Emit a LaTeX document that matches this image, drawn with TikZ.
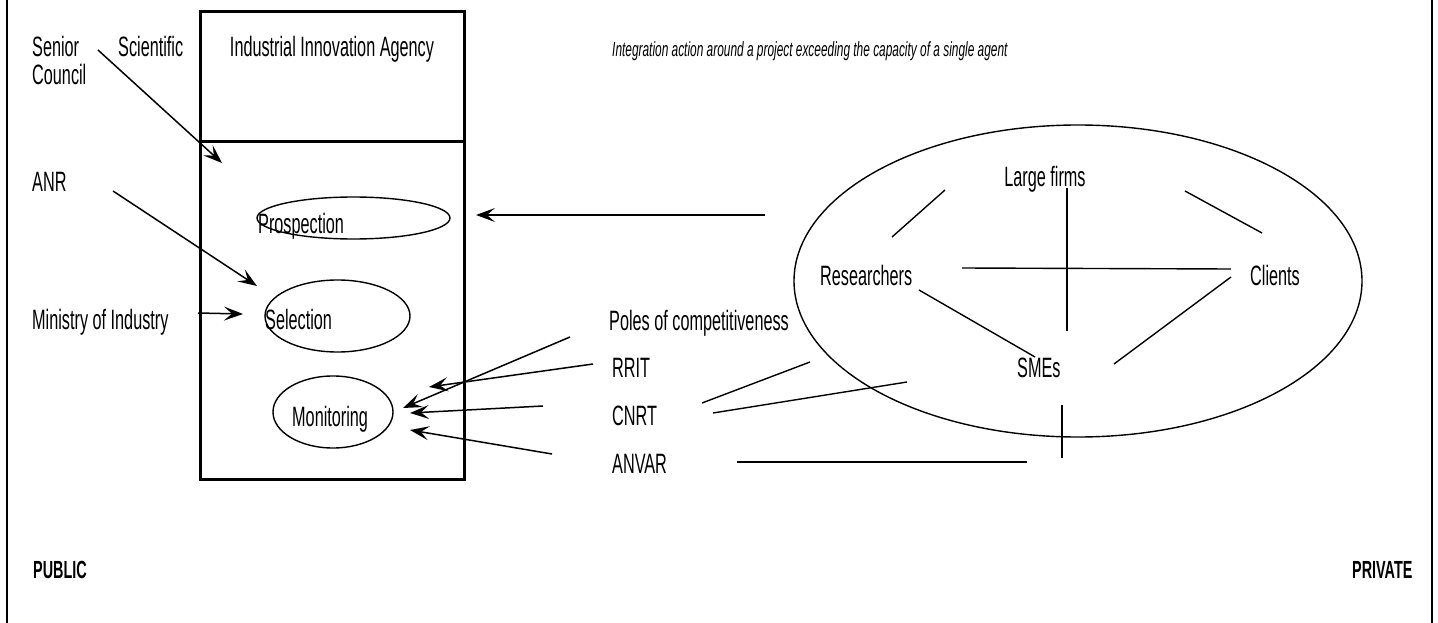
\documentclass[tikz,border=0pt]{standalone}
\usepackage{fontspec}
\setmainfont{Liberation Sans}[FakeStretch=0.58]
\usetikzlibrary{shapes.geometric,arrows.meta}
\begin{document}
\begin{tikzpicture}[x=1pt,y=-1pt,
  lbl/.style={anchor=base west, inner sep=0pt, font=\fontsize{28}{31}\selectfont},
  lblc/.style={anchor=base, inner sep=0pt, font=\fontsize{28}{31}\selectfont},
  ttl/.style={anchor=base west, inner sep=0pt, font=\fontsize{20.5}{24}\selectfont\itshape},
  side/.style={anchor=base west, inner sep=0pt, font=\fontsize{24.8}{28}\selectfont\bfseries},
  oval/.style={draw, ellipse, line width=1.4pt, inner sep=0pt},
  link/.style={line width=1.4pt},
  arr/.style={line width=1.5pt, -{Stealth[length=19pt,width=14pt,inset=8pt]}},
  framed/.style={line width=2pt},
  agency/.style={draw, line width=3pt, inner sep=0pt}]
\useasboundingbox (0,0) rectangle (1438,623);
% side frame lines
\draw[framed] (7,0) -- (7,623);
\draw[framed] (1432,0) -- (1432,623);
% agency box
\node[agency, minimum width=264pt, minimum height=130pt] (agtop) at (332,77) {};
\node[agency, minimum width=264pt, minimum height=337pt] (agbot) at (332,310.5) {};
\node[lblc] (iia) at (332,57) {Industrial Innovation Agency};
% ovals inside the agency
\node[oval, minimum width=193pt, minimum height=42pt] (prosp) at (353.5,218) {};
\node[oval, minimum width=145pt, minimum height=72pt] (sel) at (337.5,316) {};
\node[oval, minimum width=120pt, minimum height=72pt] (mon) at (333,412) {};
\node[lbl] (prostxt) at (258,233) {Prospection};
\node[lbl] (seltxt) at (265,329) {Selection};
\node[lbl] (montxt) at (292,426) {Monitoring};
% public side labels
\node[lbl] (senior) at (32,57) {Senior};
\node[lbl] (council) at (32,85) {Council};
\node[lbl] (scient) at (118,57) {Scientific};
\node[lbl] (anr) at (32,192) {ANR};
\node[lbl] (moi) at (32,329) {Ministry of Industry};
\node[ttl] (title) at (612,57) {Integration action around a project exceeding the capacity of a single agent};
% intermediate labels
\node[lbl] (poles) at (609,330) {Poles of competitiveness};
\node[lbl] (rrit) at (612,377) {RRIT};
\node[lbl] (cnrt) at (612,425) {CNRT};
\node[lbl] (anvar) at (612,473) {ANVAR};
% private ellipse
\node[oval, minimum width=568pt, minimum height=312pt] (priv) at (1078,281) {};
\node[lblc] (large) at (1045,186) {Large firms};
\node[lbl] (res) at (820,285) {Researchers};
\node[lbl] (cli) at (1250,285) {Clients};
\node[lbl] (smes) at (1017,377) {SMEs};
\node[side] (pub) at (33,578) {PUBLIC};
\node[side] (pri) at (1352,578) {PRIVATE};
% coordinates for connector ends
\coordinate (a1s) at (98,50);   \coordinate (a1e) at (222,163);
\coordinate (a2s) at (113,191); \coordinate (a2e) at (257,286);
\coordinate (a3s) at (198,313); \coordinate (a3e) at (243,314);
\coordinate (a4s) at (570,337); \coordinate (a4e) at (403,408);
\coordinate (a5s) at (593,364); \coordinate (a5e) at (429,387);
\coordinate (a6s) at (543,406); \coordinate (a6e) at (410,413);
\coordinate (a7s) at (552,454); \coordinate (a7e) at (410,430);
\coordinate (a8s) at (765,215); \coordinate (a8e) at (476,215);
\draw[arr] (a1s) -- (a1e);
\draw[arr] (a2s) -- (a2e);
\draw[arr] (a3s) -- (a3e);
\draw[arr] (a4s) -- (a4e);
\draw[arr] (a5s) -- (a5e);
\draw[arr] (a6s) -- (a6e);
\draw[arr] (a7s) -- (a7e);
\draw[arr] (a8s) -- (a8e);
% links inside private ellipse
\coordinate (l1a) at (892,237);  \coordinate (l1b) at (945,190);
\coordinate (l2a) at (1067,188); \coordinate (l2b) at (1067,331);
\coordinate (l3a) at (962,268);  \coordinate (l3b) at (1231,269);
\coordinate (l4a) at (1185,191); \coordinate (l4b) at (1262,233);
\coordinate (l5a) at (919,290);  \coordinate (l5b) at (1035,357);
\coordinate (l6a) at (1231,277); \coordinate (l6b) at (1114,364);
\coordinate (l7a) at (1062,405); \coordinate (l7b) at (1062,458);
\coordinate (l8a) at (702,403);  \coordinate (l8b) at (810,362);
\coordinate (l9a) at (713,413);  \coordinate (l9b) at (907,382);
\coordinate (l10a) at (737,462); \coordinate (l10b) at (1027,462);
\foreach \p in {l1,l2,l3,l4,l5,l6,l7,l8,l9,l10}
  \draw[link] (\p a) -- (\p b);
\end{tikzpicture}
\end{document}
